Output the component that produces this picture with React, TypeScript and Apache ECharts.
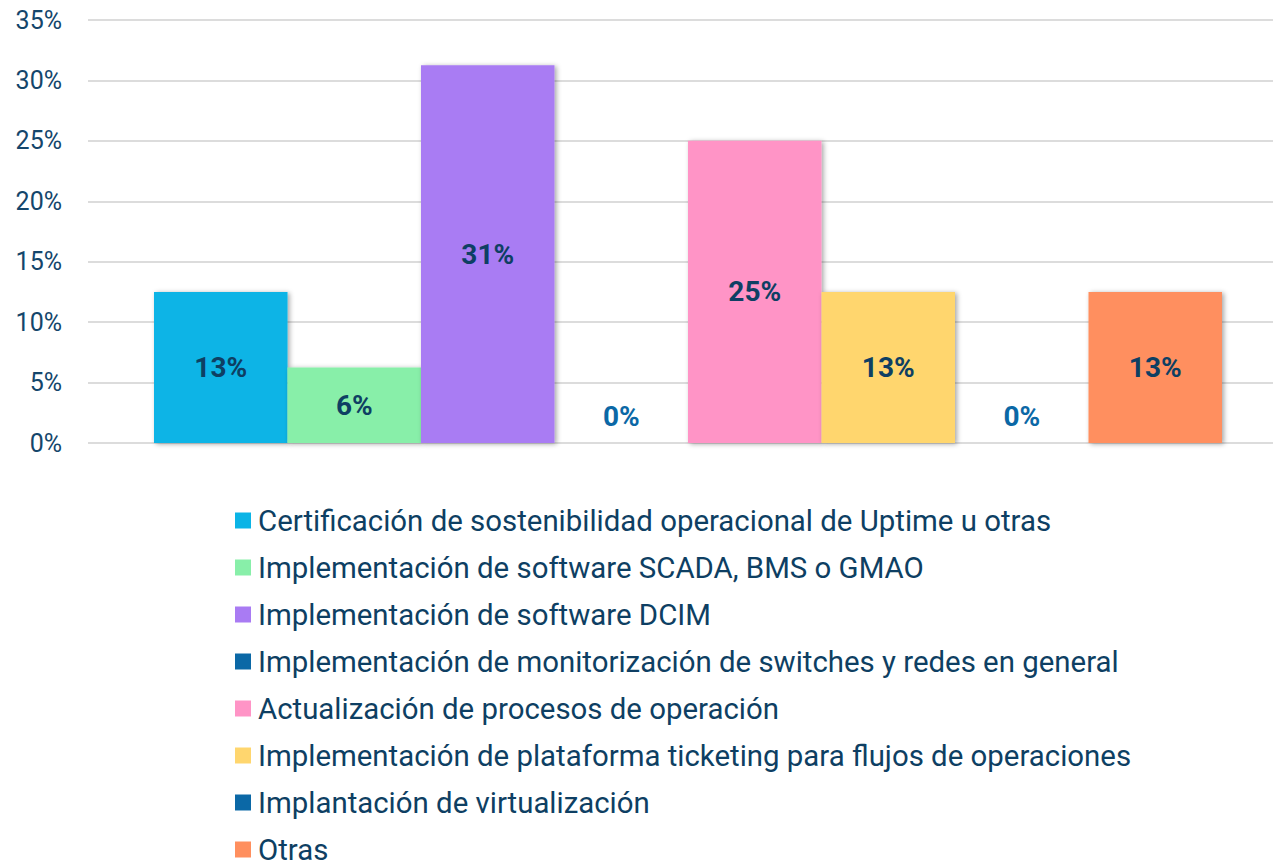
import React, { useEffect, useRef } from "react";
import * as echarts from "echarts";

const seriesNames = [
  "Certificación de sostenibilidad operacional de Uptime u otras",
  "Implementación de software SCADA, BMS o GMAO",
  "Implementación de software DCIM",
  "Implementación de monitorización de switches y redes en general",
  "Actualización de procesos de operación",
  "Implementación de plataforma ticketing para flujos de operaciones",
  "Implantación de virtualización",
  "Otras",
];
const seriesValues = [12.5, 6.25, 31.25, 0, 25, 12.5, 0, 12.5];
const seriesColors = ["#0BB4E6", "#88EFA9", "#A97BF3", "#0B68A6", "#FF94C6", "#FFD66E", "#0B68A6", "#FF8F5E"];
const categories = [""];
const yTicks = { min: 0, max: 35, interval: 5 };

export default function App() {
  const ref = useRef<HTMLDivElement>(null);
  useEffect(() => {
    const chart = echarts.init(ref.current!, null, { renderer: "svg" });
    const font = "Roboto";
    chart.setOption({
      animation: false,
      textStyle: { fontFamily: font },
      grid: { left: 88, right: 0, top: 20, bottom: 420, containLabel: false },
      legend: {
        orient: "vertical",
        left: 235,
        top: 506,
        height: 400,
        padding: 0,
        itemWidth: 16,
        itemHeight: 16,
        itemGap: 18,
        icon: "rect",
        textStyle: { fontSize: 29.4, lineHeight: 29, height: 29, color: "#0E3F63", fontFamily: font, padding: [0, 0, 0, 2] },
        data: seriesNames,
      },
      xAxis: {
        type: "category",
        data: categories,
        axisLine: { show: false },
        axisTick: { show: false },
        axisLabel: { show: false },
      },
      yAxis: {
        type: "value",
        min: yTicks.min,
        max: yTicks.max,
        interval: yTicks.interval,
        axisLabel: { formatter: "{value}%", fontSize: 25, color: "#14466B", margin: 26, fontFamily: font },
        axisLine: { show: false },
        axisTick: { show: false },
        splitLine: { lineStyle: { color: "#DCDCDC", width: 2 } },
      },
      series: seriesNames.map((name, i) => ({
        name,
        type: "bar",
        barWidth: 133.5,
        barGap: "0%",
        itemStyle: {
          color: seriesColors[i],
          shadowColor: "rgba(0,0,0,0.35)",
          shadowBlur: 5,
          shadowOffsetX: 2,
          shadowOffsetY: 1,
        },
        label: {
          show: true,
          position: seriesValues[i] === 0 ? "top" : "inside",
          distance: 13,
          formatter: (p: any) => Math.round(p.value) + "%",
          fontSize: 28,
          fontWeight: "bold",
          fontFamily: font,
          color: seriesValues[i] === 0 ? "#0B68A6" : "#0E3F63",
        },
        data: [seriesValues[i]],
      })),
    });
    return () => chart.dispose();
  }, []);
  return (
    <div style={{ position: "absolute", left: 0, top: 0, width: 1273, height: 863, overflow: "hidden", background: "#fff" }}>
      <div ref={ref} style={{ width: 1288, height: 863 }} />
    </div>
  );
}
